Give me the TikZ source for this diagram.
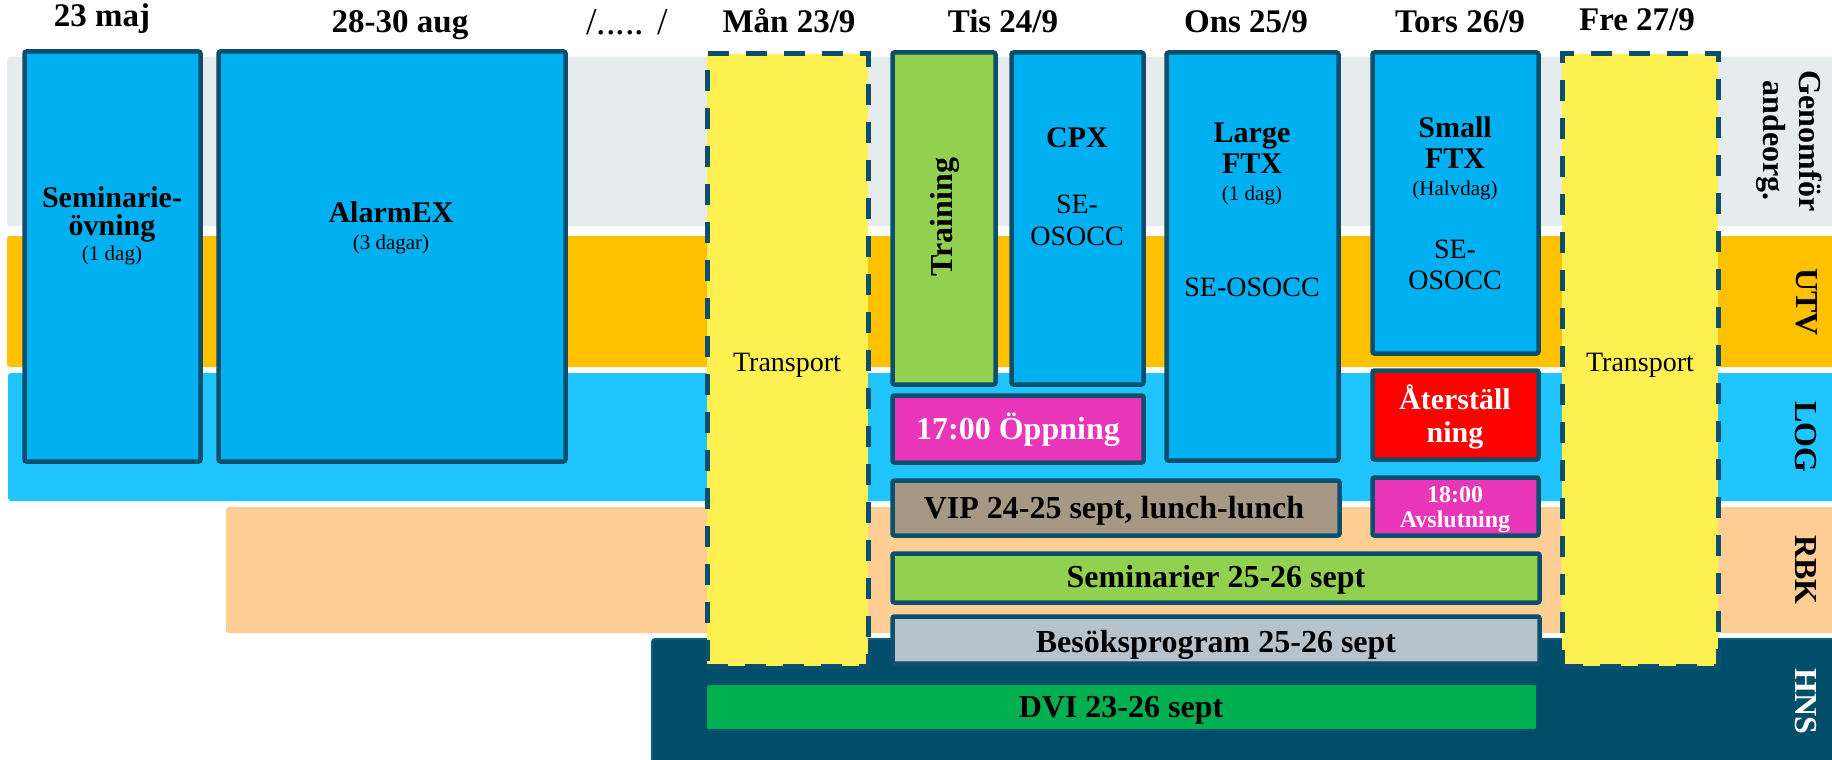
\documentclass[tikz,border=0pt]{standalone}
\usepackage{fontspec}
\setmainfont{Liberation Serif}
\usetikzlibrary{positioning}
\usepackage{xcolor}
\definecolor{edge}{HTML}{0B4F6C}
\definecolor{hnsband}{HTML}{004E6A}
\definecolor{hnsedge}{HTML}{0A5F7E}
\definecolor{genband}{HTML}{E6EBEE}
\definecolor{utvband}{HTML}{FFC000}
\definecolor{logband}{HTML}{20C5FF}
\definecolor{rbkband}{HTML}{FFCE94}
\definecolor{sky}{HTML}{00B0F0}
\definecolor{lime}{HTML}{92D050}
\definecolor{pinkish}{HTML}{E936B9}
\definecolor{tan}{HTML}{A69885}
\definecolor{steel}{HTML}{B7C3CC}
\definecolor{dvigreen}{HTML}{00B050}
\definecolor{transyellow}{HTML}{FFF052}

\begin{document}
\begin{tikzpicture}[x=1pt, y=-1pt,
  band/.style={rectangle, rounded corners=3pt, inner sep=0pt, outer sep=0pt, anchor=north west},
  box/.style={rectangle, draw=edge, line width=4.5pt, rounded corners=2pt, inner sep=0pt, outer sep=0pt, anchor=north west},
  travel/.style={rectangle, draw=edge, line width=5pt, dash pattern=on 21pt off 17pt, fill=transyellow, inner sep=0pt, outer sep=0pt, anchor=north west},
  day/.style={font=\fontsize{33}{33}\selectfont\bfseries, anchor=base, inner sep=0pt},
  title/.style={font=\fontsize{30}{30}\selectfont\bfseries, anchor=base, inner sep=0pt},
  bar/.style={font=\fontsize{32}{32}\selectfont\bfseries, anchor=base, inner sep=0pt},
  plain/.style={font=\fontsize{28}{28}\selectfont, anchor=base, inner sep=0pt},
  note/.style={font=\fontsize{21}{21}\selectfont, anchor=base, inner sep=0pt},
  lane/.style={font=\fontsize{32}{36}\selectfont\bfseries, rotate=-90, align=center, inner sep=0pt}
]
\useasboundingbox (0,0) rectangle (1832,760);

% --- Band (organisationer) ---
\node[band, fill=genband, minimum width=1835pt, minimum height=169pt] (genomf) at (7,57) {};
\node[band, fill=utvband, minimum width=1835pt, minimum height=131pt] (utv) at (7,236) {};
\node[band, fill=logband, minimum width=1835pt, minimum height=128pt] (log) at (8,373) {};
\node[band, fill=rbkband, minimum width=1615pt, minimum height=126pt] (rbk) at (226,507) {};
\node[band, fill=hnsband, draw=hnsedge, line width=2pt, minimum width=1190pt, minimum height=130pt] (hns) at (652,639) {};

% --- Datum ---
\node[day] (maj) at (102,27) {23 maj};
\node[day] (aug) at (400,33) {28-30 aug};
\node[day, font=\fontsize{38}{38}\selectfont] (gap) at (627,35) {/..... /};
\node[day] (man) at (789,33) {Mån 23/9};
\node[day] (tis) at (1003,33) {Tis 24/9};
\node[day] (ons) at (1246,33) {Ons 25/9};
\node[day] (tors) at (1460,33) {Tors 26/9};
\node[day] (fre) at (1637,31) {Fre 27/9};

% --- Aktiviteter ---
\node[box, fill=sky, minimum width=176pt, minimum height=410pt] (seminarie) at (24.5,51.5) {};
\node[box, fill=sky, minimum width=347pt, minimum height=410pt] (alarmex) at (218.5,51.5) {};
\node[travel, minimum width=161pt, minimum height=612pt] (transA) at (707,54) {};
\node[box, fill=lime, minimum width=103pt, minimum height=332pt] (training) at (892.5,52.5) {};
\node[box, fill=sky, minimum width=132pt, minimum height=332pt] (cpx) at (1011.5,52.5) {};
\node[box, fill=sky, minimum width=172pt, minimum height=408pt] (large) at (1166.5,52.5) {};
\node[box, fill=sky, minimum width=166pt, minimum height=301pt] (small) at (1372.5,52.5) {};
\node[box, fill=red, minimum width=166pt, minimum height=89pt] (aterst) at (1372.5,370.5) {};
\node[box, fill=pinkish, minimum width=166pt, minimum height=58pt] (avslut) at (1372.5,477.5) {};
\node[box, fill=pinkish, minimum width=251pt, minimum height=67pt] (oppning) at (892.5,395.5) {};
\node[box, fill=tan, minimum width=447pt, minimum height=55pt] (vip) at (892.5,480.5) {};
\node[box, fill=lime, minimum width=647pt, minimum height=49pt] (seminarier) at (892.5,553.5) {};
\node[box, fill=steel, minimum width=647pt, minimum height=47pt] (besok) at (892.5,616.5) {};
\node[box, fill=dvigreen, line width=2pt, minimum width=831pt, minimum height=46pt] (dvi) at (706,684) {};
\node[travel, minimum width=156pt, minimum height=612pt] (transB) at (1562,54) {};

% --- Texter ---
\node[title] (semA) at (112,207) {Seminarie-};
\node[title] (semB) at (112,235) {övning};
\node[note] (semC) at (112,260) {(1 dag)};
\node[title] (alarmA) at (391,222) {AlarmEX};
\node[note] (alarmB) at (391,249) {(3 dagar)};
\node[plain] (transAtxt) at (787,371) {Transport};
\node[title, anchor=center, rotate=90, font=\fontsize{32}{32}\selectfont\bfseries] (trainingtxt) at (945,217) {Training};
\node[title] (cpxA) at (1077,147) {CPX};
\node[plain] (cpxB) at (1077,213) {SE-};
\node[plain] (cpxC) at (1077,245) {OSOCC};
\node[title] (largeA) at (1252,142) {Large};
\node[title] (largeB) at (1252,173) {FTX};
\node[note] (largeC) at (1252,200) {(1 dag)};
\node[plain] (largeD) at (1252,296) {SE-OSOCC};
\node[title] (smallA) at (1455,137) {Small};
\node[title] (smallB) at (1455,168) {FTX};
\node[note] (smallC) at (1455,195) {(Halvdag)};
\node[plain] (smallD) at (1455,258) {SE-};
\node[plain] (smallE) at (1455,289) {OSOCC};
\node[title, text=white] (aterstA) at (1455,409) {Återställ};
\node[title, text=white] (aterstB) at (1455,442) {ning};
\node[title, text=white, font=\fontsize{24}{24}\selectfont\bfseries] (avslutA) at (1455,502) {18:00};
\node[title, text=white, font=\fontsize{24}{24}\selectfont\bfseries] (avslutB) at (1455,527) {Avslutning};
\node[bar, text=white] (oppningtxt) at (1018,439) {17:00 Öppning};
\node[bar] (viptxt) at (1114,518) {VIP 24-25 sept, lunch-lunch};
\node[bar] (seminariertxt) at (1216,587) {Seminarier 25-26 sept};
\node[bar] (besoktxt) at (1216,652) {Besöksprogram 25-26 sept};
\node[bar] (dvitxt) at (1121,717) {DVI 23-26 sept};
\node[plain] (transBtxt) at (1640,371) {Transport};

% --- Etiketter till höger ---
\node[lane] (genomftxt) at (1789,141) {Genomför\\andeorg.};
\node[lane] (utvtxt) at (1807,302) {UTV};
\node[lane] (logtxt) at (1806,437) {LOG};
\node[lane] (rbktxt) at (1806,570) {RBK};
\node[lane, text=white] (hnstxt) at (1806,701) {HNS};

\end{tikzpicture}
\end{document}
